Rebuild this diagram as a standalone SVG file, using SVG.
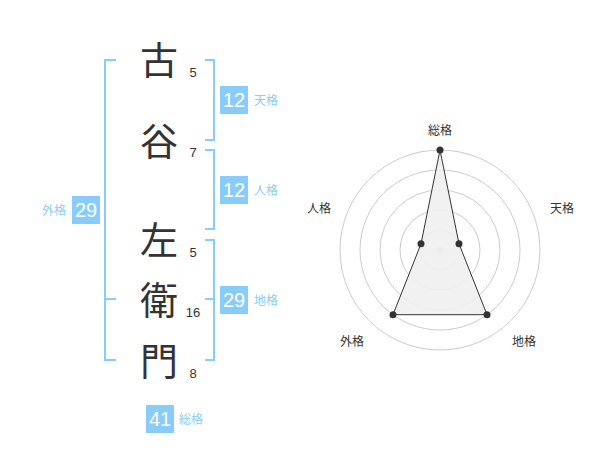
<svg xmlns="http://www.w3.org/2000/svg" width="600" height="470" viewBox="0 0 600 470">
<style>
.kanji{font-family:"Noto Sans CJK JP","Noto Sans CJK SC",sans-serif;font-size:38px;fill:#333;text-anchor:middle}
.num{font-family:"Liberation Sans",Arial,sans-serif;font-size:13px;fill:#333;text-anchor:middle}
.br{fill:none;stroke:#88ccfa;stroke-width:2}
.box{fill:#88ccfa}
.bn{font-family:"Liberation Sans",Arial,sans-serif;font-size:20px;fill:#fff;text-anchor:middle}
.bl{font-family:"Noto Sans CJK JP","Noto Sans CJK SC",sans-serif;font-size:12px;fill:#88ccfa}
.ring{fill:none;stroke:#ccc;stroke-width:1}
.rl{font-family:"Noto Sans CJK JP","Noto Sans CJK SC",sans-serif;font-size:12px;fill:#333;text-anchor:middle}
</style>
<rect width="600" height="470" fill="#fff"/>
<g id="chars">
<text class="kanji" x="159" y="73.5">古</text>
<text class="kanji" x="159" y="155">谷</text>
<text class="kanji" x="159" y="254">左</text>
<text class="kanji" x="159" y="313.5">衛</text>
<text class="kanji" x="159" y="374.5">門</text>
<text class="num" x="193" y="77">5</text>
<text class="num" x="193" y="157">7</text>
<text class="num" x="193" y="257">5</text>
<text class="num" x="193" y="317">16</text>
<text class="num" x="193" y="378">8</text>
</g>
<g id="connectors">
<path class="br" d="M116,60 H105 V360 H116 M105,299 H116"/>
<path class="br" d="M205,60 H214 V140 H205"/>
<path class="br" d="M205,150 H214 V229 H205"/>
<path class="br" d="M205,240 H214 V360 H205 M205,299 H214"/>
</g>
<g id="tenkaku">
<rect class="box" x="220" y="86" width="28" height="28"/>
<text class="bn" x="234" y="107">12</text>
<text class="bl" x="254" y="104.5">天格</text>
</g>
<g id="jinkaku">
<rect class="box" x="220" y="176" width="28" height="28"/>
<text class="bn" x="234" y="197">12</text>
<text class="bl" x="254" y="194.5">人格</text>
</g>
<g id="chikaku">
<rect class="box" x="220" y="286" width="28" height="28"/>
<text class="bn" x="234" y="307">29</text>
<text class="bl" x="254" y="304.5">地格</text>
</g>
<g id="gaikaku">
<rect class="box" x="72" y="196" width="28" height="28"/>
<text class="bn" x="86" y="217">29</text>
<text class="bl" x="66" y="214.5" text-anchor="end">外格</text>
</g>
<g id="soukaku">
<rect class="box" x="146" y="405" width="28" height="28"/>
<text class="bn" x="160" y="426">41</text>
<text class="bl" x="179" y="423.5">総格</text>
</g>
<g id="radar">
<circle class="ring" cx="440" cy="250" r="20"/>
<circle class="ring" cx="440" cy="250" r="40"/>
<circle class="ring" cx="440" cy="250" r="60"/>
<circle class="ring" cx="440" cy="250" r="80"/>
<circle class="ring" cx="440" cy="250" r="100"/>
<circle cx="440" cy="250" r="3" fill="#ccc"/>
<polygon points="440,150 459,243.8 487,314.7 393,314.7 421,243.8" fill="#f0f0f0" fill-opacity="0.9" stroke="#333" stroke-width="1"/>
<g fill="#333">
<circle cx="440" cy="150" r="3.5"/>
<circle cx="459" cy="243.8" r="3.5"/>
<circle cx="487" cy="314.7" r="3.5"/>
<circle cx="393" cy="314.7" r="3.5"/>
<circle cx="421" cy="243.8" r="3.5"/>
</g>
<text class="rl" x="440" y="135">総格</text>
<text class="rl" x="562" y="212.5">天格</text>
<text class="rl" x="319" y="212.5">人格</text>
<text class="rl" x="352" y="346">外格</text>
<text class="rl" x="524" y="346">地格</text>
</g>
</svg>
